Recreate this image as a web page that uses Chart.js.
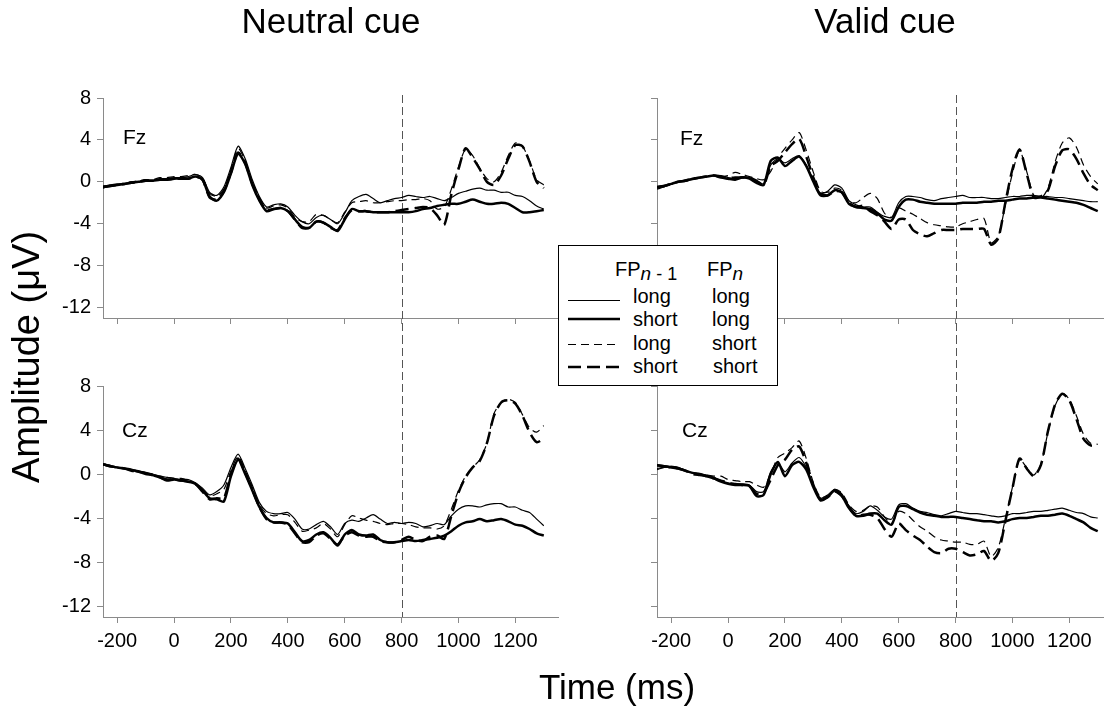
<!DOCTYPE html>
<html>
<head>
<meta charset="utf-8">
<script src="https://cdn.jsdelivr.net/npm/chart.js@4.4.1/dist/chart.umd.min.js"></script>
<style>
    body { margin: 0; background: #fff; width: 1104px; height: 715px; overflow: hidden; position: relative; font-family: "Liberation Sans", Arial, sans-serif; }
    .panel { position: absolute; }
    .overlay { position: absolute; left: 0; top: 0; z-index: 5; pointer-events: none; font-family: "Liberation Sans", Arial, sans-serif; }
</style>
</head>
<body>

<div class="panel" style="left:0;top:80px"><canvas id="fzNeutral" width="570" height="256"></canvas></div>
<div class="panel" style="left:600px;top:80px"><canvas id="fzValid" width="504" height="256"></canvas></div>
<div class="panel" style="left:0;top:336px"><canvas id="czNeutral" width="570" height="329"></canvas></div>
<div class="panel" style="left:600px;top:336px"><canvas id="czValid" width="504" height="329"></canvas></div>

<svg class="overlay" width="1104" height="715">
    <text x="331" y="33" font-size="35" text-anchor="middle">Neutral cue</text>
    <text x="885" y="33" font-size="35" text-anchor="middle">Valid cue</text>
    <text x="617" y="699" font-size="35" text-anchor="middle">Time (ms)</text>
    <text transform="translate(39,357) rotate(-90)" font-size="38" text-anchor="middle">Amplitude (μV)</text>

    <text x="123" y="144" font-size="21">Fz</text>
    <text x="680" y="145" font-size="21">Fz</text>
    <text x="122" y="437" font-size="21">Cz</text>
    <text x="682" y="437" font-size="21">Cz</text>

    <!-- legend -->
    <g transform="translate(558,245)" font-size="20">
        <rect x="0.5" y="0.5" width="219" height="140" fill="#fff" stroke="#000" stroke-width="1"/>
        <text x="57" y="31">FP<tspan font-size="19" dy="4" font-style="italic">n</tspan><tspan font-size="18"> - 1</tspan></text>
        <text x="149" y="31">FP<tspan font-size="19" dy="4" font-style="italic">n</tspan></text>
        <line x1="10" x2="62" y1="55.5" y2="55.5" stroke="#000" stroke-width="1.2"/>
        <line x1="10" x2="62" y1="74" y2="74" stroke="#000" stroke-width="2.5"/>
        <line x1="10" x2="62" y1="99.5" y2="99.5" stroke="#000" stroke-width="1.2" stroke-dasharray="8 5"/>
        <line x1="10" x2="62" y1="122" y2="122" stroke="#000" stroke-width="2.5" stroke-dasharray="13 6"/>
        <text x="75" y="58">long</text><text x="154" y="58">long</text>
        <text x="75" y="81">short</text><text x="154" y="81">long</text>
        <text x="75" y="105">long</text><text x="154" y="105">short</text>
        <text x="75" y="128">short</text><text x="155" y="128">short</text>
    </g>
</svg>

<script>
// time base (ms) shared by every waveform
const timeMs = [
    -250, -225, -200, -175, -150, -125, -100, -75, -50, -25,
    0, 25, 50, 75, 100, 125, 150, 175, 200, 225,
    250, 275, 300, 325, 350, 375, 400, 425, 450, 475,
    500, 525, 550, 575, 600, 625, 650, 675, 700, 725,
    750, 775, 800, 825, 850, 875, 900, 925, 950, 975,
    1000, 1025, 1050, 1075, 1100, 1125, 1150, 1175, 1200, 1225,
    1250, 1275, 1300
];
const xTicks = [-200, 0, 200, 400, 600, 800, 1000, 1200];
const yTicks = [8, 4, 0, -4, -8, -12];
const cueOnsetMs = 800;

// FPn-1 / FPn : LL = long/long, SL = short/long, LS = long/short, SS = short/short  (µV)

// Neutral cue, Fz
const fzNeutralLL = [
    -0.4, -0.3, -0.2, -0.2, 0.0, 0.0, 0.2, 0.1, 0.3, 0.3,
    0.4, 0.4, 0.5, 0.7, 0.4, -1.0, -1.3, -0.5, 1.4, 3.4,
    2.2, 0.2, -1.4, -2.4, -2.2, -2.1, -2.4, -3.2, -3.8, -4.0,
    -3.4, -3.2, -3.6, -4.0, -3.0, -1.8, -1.4, -1.2, -1.6, -2.0,
    -1.8, -1.6, -1.5, -1.3, -1.4, -1.5, -1.4, -1.6, -1.8, -1.5,
    -1.1, -0.9, -0.7, -0.6, -0.8, -0.8, -1.0, -1.0, -1.3, -1.4,
    -1.8, -2.3, -2.6
];
const fzNeutralSL = [
    -0.5, -0.4, -0.3, -0.2, -0.1, 0.0, 0.1, 0.1, 0.2, 0.2,
    0.3, 0.3, 0.3, 0.5, 0.2, -1.4, -1.8, -1.0, 0.8, 2.7,
    1.7, -0.3, -1.8, -2.8, -2.6, -2.5, -2.8, -3.6, -4.3, -4.4,
    -3.8, -3.9, -4.3, -4.7, -3.6, -2.6, -2.8, -2.8, -2.9, -2.9,
    -2.9, -2.9, -2.9, -2.9, -2.8, -2.6, -2.5, -2.3, -2.2, -2.1,
    -2.1, -1.9, -1.7, -1.9, -2.1, -2.1, -2.0, -2.1, -2.5, -2.9,
    -2.9, -2.8, -2.7
];
const fzNeutralLS = [
    -0.6, -0.4, -0.3, -0.1, 0.0, 0.1, 0.2, 0.2, 0.4, 0.4,
    0.5, 0.5, 0.6, 0.7, 0.4, -1.1, -1.4, -0.7, 1.2, 3.2,
    2.0, 0.0, -1.5, -2.5, -2.3, -2.2, -2.5, -3.4, -3.8, -3.8,
    -3.1, -3.2, -3.6, -3.9, -2.9, -2.0, -1.9, -1.8, -2.0, -2.0,
    -1.9, -1.8, -1.8, -1.7, -1.7, -1.6, -1.8, -2.6, -2.4, -0.7,
    1.4, 3.1, 2.5, 1.3, 0.3, 0.0, 0.9, 2.5, 3.7, 3.4,
    2.0, 0.2, -0.3
];
const fzNeutralSS = [
    -0.5, -0.4, -0.3, -0.2, -0.1, 0.0, 0.1, 0.1, 0.2, 0.2,
    0.3, 0.3, 0.3, 0.5, 0.2, -1.5, -1.7, -0.9, 0.9, 2.8,
    1.8, -0.2, -1.7, -2.7, -2.6, -2.5, -2.8, -3.6, -4.4, -4.4,
    -3.8, -3.9, -4.4, -4.6, -3.5, -2.7, -2.8, -2.8, -2.9, -2.9,
    -2.9, -2.8, -2.7, -2.6, -2.5, -2.4, -2.5, -3.2, -4.1, -1.2,
    1.2, 3.2, 2.3, 1.2, 0.0, -0.3, 0.6, 2.2, 3.5, 3.4,
    1.9, 0.0, -0.6
];

// Valid cue, Fz
const fzValidLL = [
    -0.6, -0.4, -0.2, 0.0, 0.1, 0.2, 0.4, 0.5, 0.6, 0.6,
    0.4, 0.3, 0.5, 0.4, 0.1, -0.2, 1.6, 2.2, 1.8, 2.2,
    2.5, 1.6, 0.2, -1.1, -0.9, -0.3, -0.6, -1.8, -2.2, -2.4,
    -2.4, -2.9, -3.3, -3.4, -2.0, -1.4, -1.4, -1.5, -1.7, -1.8,
    -1.6, -1.5, -1.4, -1.3, -1.5, -1.5, -1.5, -1.6, -1.6, -1.5,
    -1.4, -1.4, -1.3, -1.3, -1.4, -1.4, -1.5, -1.5, -1.6, -1.7,
    -1.8, -1.9, -1.9
];
const fzValidSL = [
    -0.5, -0.4, -0.2, 0.0, 0.1, 0.3, 0.4, 0.5, 0.6, 0.4,
    0.3, 0.2, 0.4, 0.3, -0.1, -0.3, 2.0, 2.3, 1.5, 2.0,
    2.4, 1.5, 0.0, -1.3, -1.3, -0.8, -1.0, -2.1, -2.4, -2.5,
    -2.6, -3.0, -3.6, -3.7, -2.4, -1.7, -1.7, -1.9, -2.0, -2.1,
    -2.1, -2.1, -2.1, -2.0, -2.0, -2.0, -1.9, -1.9, -1.8, -1.8,
    -1.7, -1.6, -1.6, -1.5, -1.5, -1.6, -1.7, -1.8, -1.9, -2.0,
    -2.2, -2.5, -2.8
];
const fzValidLS = [
    -0.7, -0.5, -0.2, 0.0, 0.2, 0.3, 0.4, 0.5, 0.6, 0.5,
    0.6, 0.9, 0.7, 0.5, 0.3, 0.2, 1.0, 2.3, 3.2, 4.0,
    4.7, 3.0, 0.9, -0.9, -1.0, -0.6, -0.8, -1.8, -2.0, -1.5,
    -1.1, -1.6, -3.0, -3.4, -2.5, -2.8, -3.1, -3.5, -3.9, -4.1,
    -4.2, -4.3, -4.3, -4.0, -3.8, -3.6, -3.5, -5.8, -5.2, -2.2,
    0.8, 3.0, 1.0, -1.3, -1.6, -0.6, 1.9, 3.7, 4.2, 3.3,
    1.6, 0.5, -0.2
];
const fzValidSS = [
    -0.5, -0.4, -0.2, 0.0, 0.1, 0.3, 0.4, 0.5, 0.6, 0.5,
    0.4, 0.4, 0.4, 0.4, 0.1, -0.3, 1.5, 2.0, 2.8, 3.6,
    4.1, 2.4, 0.4, -1.1, -1.3, -0.9, -1.0, -2.0, -2.4, -2.3,
    -2.8, -3.2, -3.8, -4.5, -3.6, -3.6, -4.6, -5.0, -5.2, -4.9,
    -4.6, -4.6, -4.6, -4.5, -4.5, -4.5, -4.5, -6.0, -5.4, -2.0,
    1.2, 3.1, 0.8, -1.5, -1.4, -0.8, 1.5, 3.0, 3.1, 2.2,
    0.8, -0.3, -0.8
];

// Neutral cue, Cz
const czNeutralLL = [
    0.8, 0.7, 0.6, 0.5, 0.4, 0.3, 0.1, 0.0, -0.2, -0.3,
    -0.4, -0.5, -0.5, -0.8, -1.3, -1.9, -1.6, -1.0, 0.6, 1.8,
    0.5, -1.0, -2.6, -3.4, -3.6, -3.6, -3.5, -4.1, -5.0, -5.0,
    -4.6, -4.3, -4.8, -5.5, -4.5, -4.2, -4.3, -4.0, -3.7, -4.1,
    -4.5, -4.4, -4.5, -4.4, -4.5, -4.8, -4.7, -4.5, -4.6, -3.8,
    -3.2, -2.9, -2.9, -3.0, -2.8, -2.7, -2.7, -3.0, -3.0, -3.3,
    -3.5, -4.1, -4.7
];
const czNeutralSL = [
    0.9, 0.7, 0.6, 0.5, 0.4, 0.2, 0.1, -0.1, -0.3, -0.6,
    -0.5, -0.6, -0.7, -0.9, -1.5, -2.2, -2.3, -2.5, -0.2, 1.3,
    0.0, -1.5, -3.0, -4.0, -4.4, -4.4, -4.5, -5.3, -6.1, -6.0,
    -5.5, -5.3, -5.8, -6.5, -5.5, -5.1, -5.5, -5.6, -5.5, -6.0,
    -6.2, -6.2, -6.1, -6.0, -6.1, -6.0, -5.9, -5.8, -5.6, -5.2,
    -4.7, -4.4, -4.3, -4.1, -4.3, -4.2, -4.1, -4.3, -4.6, -4.7,
    -5.0, -5.4, -5.6
];
const czNeutralLS = [
    0.9, 0.8, 0.6, 0.5, 0.4, 0.2, 0.1, -0.1, -0.2, -0.3,
    -0.4, -0.4, -0.6, -0.9, -1.4, -2.0, -1.8, -1.4, 0.3, 1.6,
    0.3, -1.2, -2.8, -3.6, -3.8, -3.7, -3.7, -4.4, -5.2, -5.1,
    -4.9, -4.5, -5.0, -5.7, -4.6, -3.8, -4.0, -4.2, -4.3, -4.5,
    -4.6, -4.5, -4.5, -4.6, -4.8, -4.9, -4.9, -5.0, -4.7, -3.2,
    -1.5, -0.2, 0.6, 1.3, 2.8, 5.5, 6.5, 6.8, 6.5, 5.4,
    4.2, 3.8, 4.4
];
const czNeutralSS = [
    0.9, 0.7, 0.6, 0.5, 0.3, 0.2, 0.0, -0.1, -0.3, -0.5,
    -0.5, -0.6, -0.7, -0.9, -1.6, -2.3, -2.2, -2.2, 0.0, 1.4,
    0.1, -1.4, -3.0, -4.1, -4.4, -4.4, -4.6, -5.4, -6.2, -6.2,
    -5.6, -5.4, -5.9, -6.4, -5.6, -5.3, -5.6, -5.7, -5.7, -6.1,
    -6.2, -6.2, -6.0, -5.7, -6.0, -6.1, -5.7, -5.6, -5.9, -3.8,
    -1.7, -0.3, 0.6, 1.2, 2.8, 5.3, 6.5, 6.7, 6.4, 5.3,
    3.8, 2.9, 3.2
];

// Valid cue, Cz
const czValidLL = [
    0.5, 0.6, 0.7, 0.6, 0.3, 0.1, 0.0, -0.1, -0.3, -0.6,
    -0.8, -0.9, -0.9, -1.0, -1.6, -1.6, 0.2, 1.0, 0.2, 1.0,
    1.5, 0.6, -1.0, -2.2, -1.9, -1.4, -1.8, -2.9, -3.6, -3.4,
    -2.9, -3.3, -3.9, -4.1, -2.8, -2.7, -3.1, -3.4, -3.5, -3.7,
    -3.8, -3.6, -3.4, -3.5, -3.6, -3.6, -3.7, -3.8, -3.9, -3.8,
    -3.6, -3.6, -3.5, -3.4, -3.4, -3.3, -3.2, -3.1, -3.3, -3.5,
    -3.6, -3.9, -4.0
];
const czValidSL = [
    0.8, 0.7, 0.6, 0.5, 0.3, 0.1, 0.0, -0.2, -0.4, -0.7,
    -0.9, -1.0, -1.0, -1.1, -2.0, -1.9, 0.0, 1.1, -0.2, 0.8,
    1.1, 0.4, -1.2, -2.4, -2.1, -1.5, -2.0, -3.1, -3.8, -3.8,
    -3.6, -3.6, -4.2, -4.6, -3.0, -2.9, -3.2, -3.5, -3.7, -3.8,
    -3.9, -3.9, -3.9, -4.0, -4.1, -4.2, -4.3, -4.3, -4.4, -4.3,
    -4.1, -4.0, -4.0, -3.9, -3.8, -3.8, -3.7, -3.6, -3.8, -4.1,
    -4.4, -4.9, -5.2
];
const czValidLS = [
    0.4, 0.6, 0.7, 0.6, 0.3, 0.1, 0.0, -0.1, -0.2, -0.2,
    -0.5, -0.6, -0.7, -0.7, -1.0, -1.2, 0.0, 1.5, 1.9, 2.4,
    3.0, 1.4, -0.8, -2.1, -2.0, -1.4, -1.7, -2.8, -3.4, -3.3,
    -2.9, -3.0, -3.9, -4.5, -3.4, -3.6, -4.2, -4.8, -5.2, -5.7,
    -6.0, -6.1, -6.2, -6.2, -6.4, -6.4, -6.1, -7.5, -6.7, -4.1,
    -1.2, 1.3, 0.6, -0.1, 0.9, 3.8, 6.2, 7.3, 6.8, 5.3,
    3.6, 2.8, 2.7
];
const czValidSS = [
    0.8, 0.7, 0.6, 0.5, 0.3, 0.0, -0.1, -0.2, -0.4, -0.6,
    -0.8, -0.9, -1.0, -1.1, -1.8, -1.7, -0.5, 0.8, 1.3, 2.2,
    2.5, 1.0, -1.0, -2.3, -2.1, -1.6, -2.0, -3.0, -3.8, -3.7,
    -3.7, -4.0, -5.0, -5.7, -4.5, -5.1, -5.6, -6.0, -6.6, -7.1,
    -7.2, -6.8, -6.8, -7.1, -7.4, -7.3, -7.0, -7.9, -7.2, -4.3,
    -1.3, 1.4, 0.5, -0.2, 0.8, 3.9, 6.3, 7.3, 6.7, 5.0,
    3.2, 2.6, 2.6
];

// line styles in legend order: LL, SL, LS, SS
const lineStyles = [
    { borderWidth: 1.2, borderDash: [] },
    { borderWidth: 2.5, borderDash: [] },
    { borderWidth: 1.2, borderDash: [8, 5] },
    { borderWidth: 2.5, borderDash: [13, 6] },
];

const FONT = '"Liberation Sans", Arial, sans-serif';
const AXIS_GREY = '#8a8a8a';

// dashed marker at cue onset, spanning the gap between the stacked panels
const cueLine = {
    id: 'cueLine',
    beforeDatasetsDraw(chart, args, opts) {
        const x = Math.round(chart.scales.x.getPixelForValue(cueOnsetMs)) + 0.5;
        const a = chart.chartArea;
        const ctx = chart.ctx;
        ctx.save();
        ctx.strokeStyle = '#555';
        ctx.lineWidth = 1;
        ctx.setLineDash([8, 4]);
        ctx.beginPath();
        ctx.moveTo(x, opts.upper ? a.top - 3 : 0);
        ctx.lineTo(x, opts.upper ? chart.height : a.bottom);
        ctx.stroke();
        ctx.restore();
    }
};

function makePanel(id, series, cfg) {
    const datasets = series.map((vals, i) => ({
        data: timeMs.map((t, k) => ({ x: t, y: vals[k] })),
        borderColor: '#000',
        borderWidth: lineStyles[i].borderWidth,
        borderDash: lineStyles[i].borderDash,
        pointRadius: 0,
        tension: 0.25,
        fill: false,
    }));

    return new Chart(document.getElementById(id), {
        type: 'line',
        data: { datasets },
        plugins: [cueLine],
        options: {
            responsive: false,
            animation: false,
            events: [],
            layout: { padding: { top: cfg.padTop, right: cfg.padRight, left: 0, bottom: 0 } },
            plugins: {
                legend: { display: false },
                tooltip: { enabled: false },
                cueLine: { upper: cfg.upper },
            },
            scales: {
                x: {
                    type: 'linear', min: -250, max: cfg.xMax,
                    afterBuildTicks: s => { s.ticks = xTicks.map(v => ({ value: v })); },
                    afterFit: s => { s.height = cfg.xAxisHeight; },
                    grid: { drawOnChartArea: false, drawTicks: true, tickLength: 6, color: AXIS_GREY },
                    border: { color: AXIS_GREY, width: 1 },
                    ticks: {
                        color: cfg.upper ? 'rgba(0,0,0,0)' : '#000',
                        font: { family: FONT, size: 20 },
                        padding: 6, autoSkip: false, maxRotation: 0,
                        callback: v => String(v),
                    },
                },
                y: {
                    min: -13, max: 8,
                    afterBuildTicks: s => { s.ticks = yTicks.map(v => ({ value: v })); },
                    afterFit: s => { s.width = cfg.yAxisWidth; },
                    grid: { drawOnChartArea: false, drawTicks: true, tickLength: 6, color: AXIS_GREY },
                    border: { color: AXIS_GREY, width: 1 },
                    ticks: {
                        color: cfg.yLabels ? '#000' : 'rgba(0,0,0,0)',
                        font: { family: FONT, size: 20 },
                        padding: 6,
                        callback: v => String(v),
                    },
                },
            },
        },
    });
}

makePanel('fzNeutral', [fzNeutralLL, fzNeutralSL, fzNeutralLS, fzNeutralSS],
    { upper: true, yLabels: true, padTop: 15, padRight: 12, xMax: 1350, xAxisHeight: 10, yAxisWidth: 103 });
makePanel('fzValid', [fzValidLL, fzValidSL, fzValidLS, fzValidSS],
    { upper: true, yLabels: false, padTop: 15, padRight: 0, xMax: 1322, xAxisHeight: 10, yAxisWidth: 57 });
makePanel('czNeutral', [czNeutralLL, czNeutralSL, czNeutralLS, czNeutralSS],
    { upper: false, yLabels: true, padTop: 50, padRight: 12, xMax: 1350, xAxisHeight: 48, yAxisWidth: 103 });
makePanel('czValid', [czValidLL, czValidSL, czValidLS, czValidSS],
    { upper: false, yLabels: false, padTop: 50, padRight: 0, xMax: 1322, xAxisHeight: 48, yAxisWidth: 57 });
</script>
</body>
</html>
